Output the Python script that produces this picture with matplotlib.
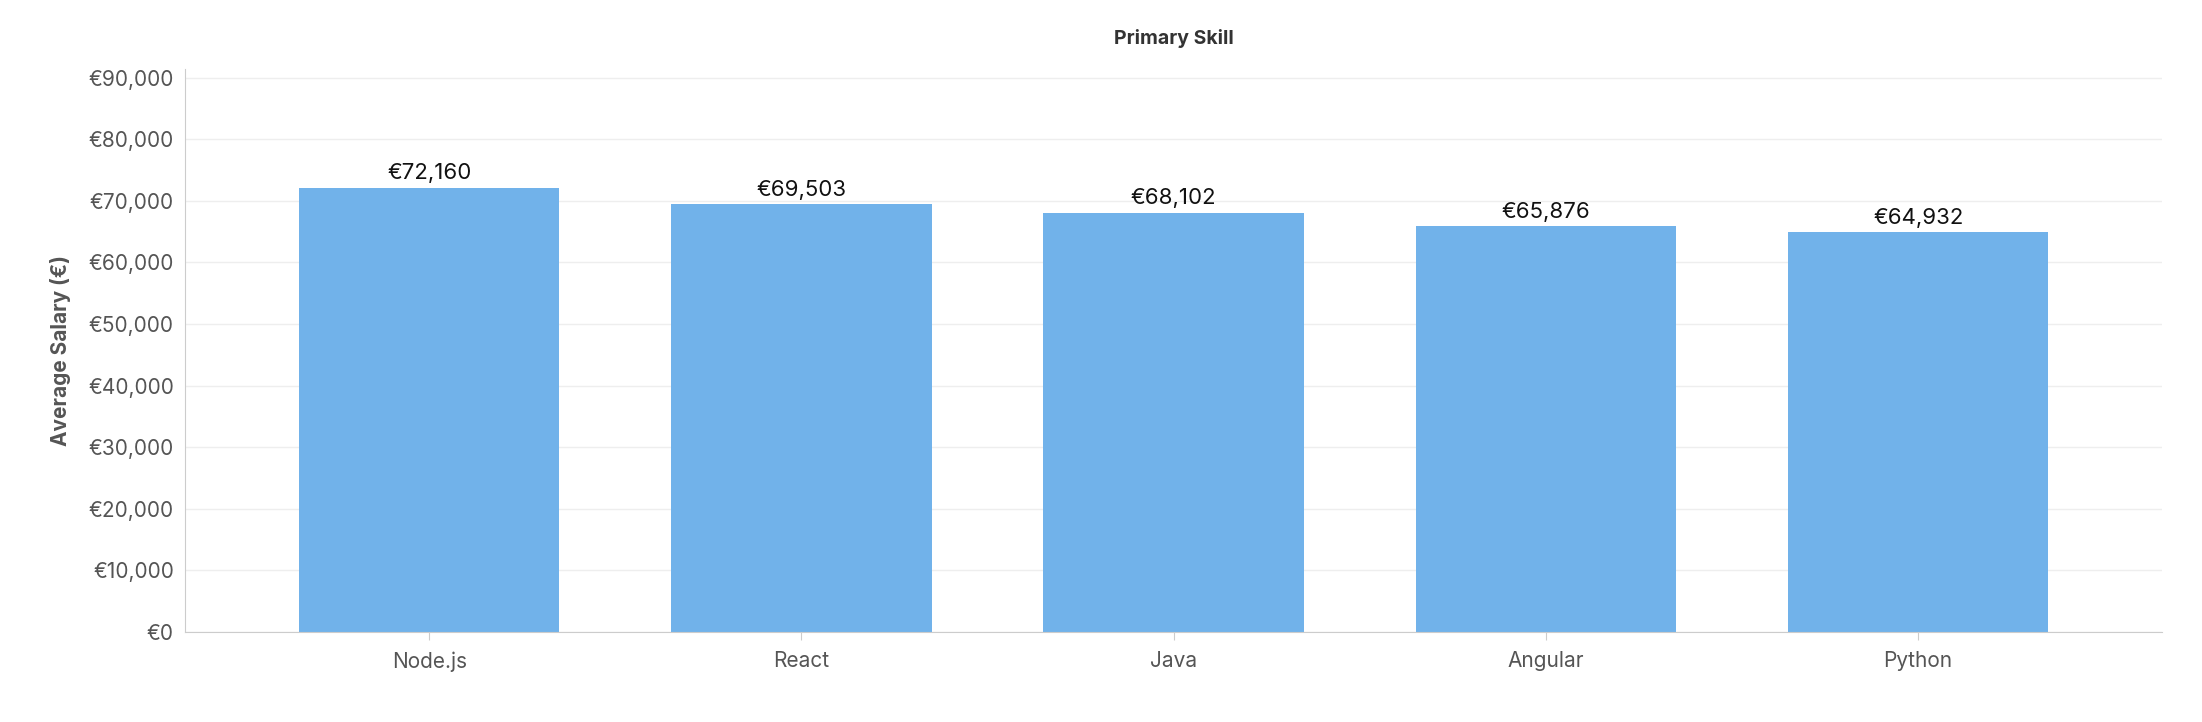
import matplotlib
matplotlib.use("Agg")
import matplotlib.pyplot as plt
from matplotlib.ticker import FuncFormatter

categories = ["Node.js", "React", "Java", "Angular", "Python"]
salaries = [72160, 69503, 68102, 65876, 64932]

plt.rcParams['font.family'] = ['Inter', 'DejaVu Sans']
fig = plt.figure(figsize=(22.02, 7.22), dpi=100)
ax = fig.add_axes([0.084, 0.125, 0.898, 0.78])
bars = ax.bar(categories, salaries, width=0.70, color="#71b2ea", zorder=2)
ax.set_xlim(-0.656, 4.656)
ax.set_ylim(0, 91500)
ax.set_yticks(range(0, 90001, 10000))
ax.yaxis.set_major_formatter(FuncFormatter(lambda v, p: f"€{int(v):,}"))
ax.grid(axis='y', color='#eeeeee', linewidth=1, zorder=0)
for s in ['top', 'right']:
    ax.spines[s].set_visible(False)
for s in ['left', 'bottom']:
    ax.spines[s].set_color('#cccccc')
ax.tick_params(axis='both', colors='#555555', labelsize=15, length=0, pad=8)
ax.tick_params(axis='x', length=6, color='#cccccc')
ax.set_ylabel("Average Salary (€)", fontsize=15, fontweight='bold', color='#555555', labelpad=12)
ax.set_title("Primary Skill", fontsize=14, fontweight='bold', color='#333333', pad=18)
for b, v in zip(bars, salaries):
    ax.annotate(f"€{v:,}", (b.get_x() + b.get_width() / 2, v), xytext=(0, 3),
                textcoords='offset points', ha='center', va='bottom', fontsize=16, color='#111111')
fig.savefig("out.png", dpi=100)
